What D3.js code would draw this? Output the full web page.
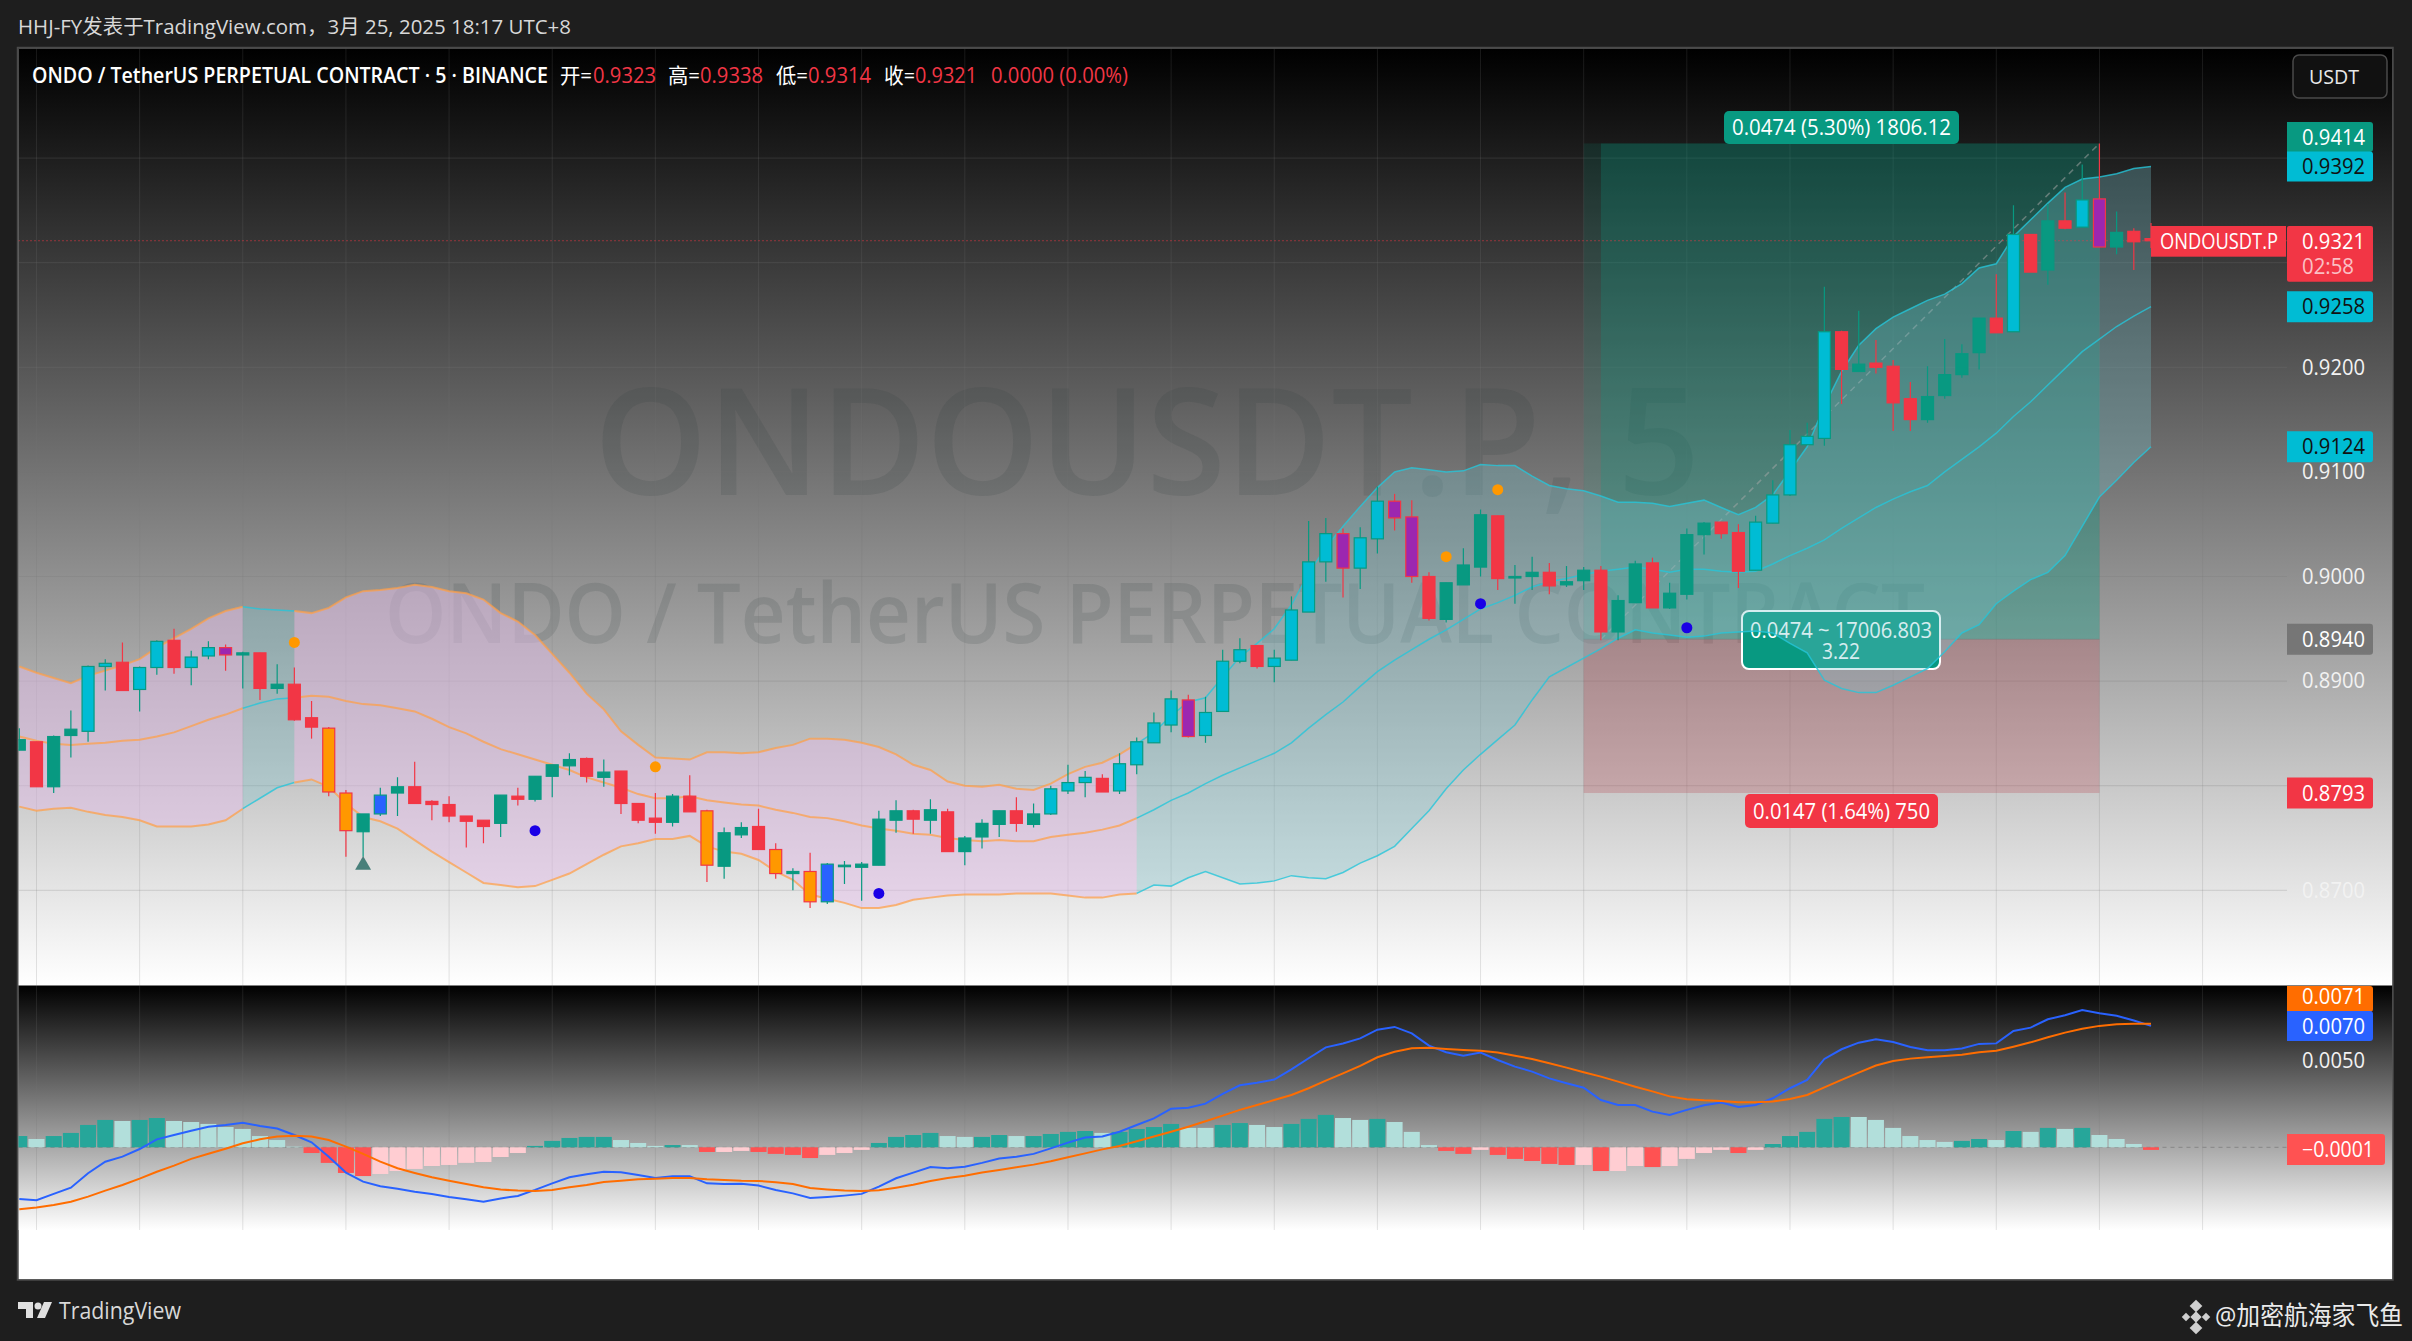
<!DOCTYPE html>
<html>
<head>
<meta charset="utf-8">
<style>
body { margin: 0; background: #1e1e1e; }
svg { display: block; }
text { font-family: "Open Sans", "Noto Sans CJK SC", sans-serif; }
</style>
</head>
<body>
<svg id="chart" width="2412" height="1341"></svg>
<script src="https://cdnjs.cloudflare.com/ajax/libs/d3/7.8.5/d3.min.js"></script>
<script>
// candles, one per 5 minute bar
var openPrice = [.8834,.8842,.8799,.8848,.8852,.8914,.8918,.8892,.8913,.8939,
.8913,.8924,.8932,.8925,.8927,.8893,.8897,.8865,.8855,.8793,
.8756,.8773,.8793,.8799,.8785,.8782,.8771,.8767,.8764,.8790,
.8787,.8809,.8819,.8826,.8808,.8814,.8783,.8769,.8765,.8790,
.8776,.8723,.8753,.8761,.8739,.8716,.8718,.8689,.8723,.8722,
.8724,.8767,.8776,.8767,.8775,.8737,.8751,.8763,.8776,.8763,
.8773,.8795,.8803,.8807,.8795,.8820,.8841,.8858,.8882,.8848,
.8871,.8919,.8934,.8914,.8920,.8966,.9014,.9041,.9008,.9036,
.9072,.9057,.9000,.8959,.8992,.9009,.9058,.8999,.9000,.9004,
.8992,.8996,.9006,.8947,.8975,.9013,.8970,.8983,.9040,.9052,
.9042,.9006,.9051,.9078,.9126,.9132,.9234,.9196,.9204,.9201,
.9170,.9150,.9173,.9193,.9214,.9247,.9234,.9327,.9293,.9340,
.9334,.9361,.9315,.9330,.9323];
var closePrice = [.8844,.8799,.8847,.8854,.8914,.8917,.8891,.8913,.8938,.8913,
.8923,.8932,.8925,.8927,.8893,.8897,.8863,.8856,.8794,.8757,
.8773,.8791,.8799,.8783,.8782,.8771,.8766,.8761,.8791,.8787,
.8809,.8820,.8825,.8809,.8813,.8783,.8767,.8765,.8790,.8775,
.8724,.8755,.8760,.8739,.8716,.8718,.8689,.8725,.8724,.8725,
.8768,.8776,.8768,.8777,.8737,.8750,.8764,.8776,.8764,.8773,
.8797,.8803,.8808,.8794,.8821,.8842,.8860,.8883,.8847,.8870,
.8919,.8930,.8914,.8922,.8968,.9014,.9041,.9008,.9037,.9072,
.9056,.9000,.8960,.8994,.9011,.9059,.8998,.9000,.9004,.8991,
.8995,.9006,.8947,.8977,.9012,.8970,.8984,.9040,.9051,.9041,
.9005,.9052,.9078,.9126,.9134,.9234,.9198,.9203,.9200,.9166,
.9150,.9172,.9193,.9213,.9247,.9233,.9327,.9291,.9340,.9333,
.9360,.9315,.9329,.9320,.9321];
var highPrice = [.8855,.8842,.8848,.8872,.8915,.8921,.8937,.8914,.8939,.8950,
.8929,.8938,.8935,.8928,.8927,.8916,.8913,.8881,.8856,.8796,
.8773,.8798,.8808,.8823,.8786,.8790,.8771,.8767,.8791,.8798,
.8809,.8820,.8831,.8827,.8825,.8814,.8783,.8793,.8792,.8810,
.8777,.8760,.8765,.8778,.8745,.8721,.8736,.8726,.8728,.8727,
.8776,.8786,.8777,.8787,.8778,.8752,.8768,.8776,.8789,.8783,
.8800,.8820,.8814,.8811,.8831,.8846,.8870,.8891,.8887,.8885,
.8930,.8941,.8934,.8930,.8981,.9053,.9056,.9046,.9047,.9086,
.9079,.9073,.9004,.8994,.9027,.9064,.9058,.9011,.9019,.9013,
.9010,.9009,.9010,.8982,.9015,.9018,.8994,.9046,.9052,.9052,
.9050,.9058,.9092,.9140,.9147,.9277,.9235,.9254,.9226,.9207,
.9186,.9201,.9227,.9222,.9247,.9289,.9355,.9327,.9356,.9367,
.9394,.9414,.9349,.9333,.9338];
var lowPrice = [.8834,.8799,.8793,.8827,.8842,.8891,.8891,.8871,.8906,.8907,
.8896,.8921,.8910,.8893,.8882,.8888,.8862,.8845,.8790,.8732,
.8732,.8771,.8771,.8783,.8767,.8765,.8741,.8745,.8751,.8781,
.8785,.8789,.8810,.8803,.8799,.8773,.8764,.8754,.8761,.8775,
.8708,.8711,.8750,.8739,.8711,.8700,.8683,.8687,.8706,.8690,
.8724,.8755,.8754,.8754,.8737,.8724,.8740,.8751,.8756,.8760,
.8772,.8792,.8789,.8794,.8792,.8811,.8841,.8851,.8846,.8841,
.8871,.8917,.8912,.8899,.8920,.8966,.8995,.8980,.8988,.9022,
.9044,.8994,.8958,.8956,.8992,.9000,.8987,.8974,.8987,.8983,
.8990,.8987,.8939,.8939,.8975,.8970,.8969,.8978,.9021,.9036,
.8989,.9006,.9051,.9077,.9126,.9125,.9165,.9196,.9194,.9139,
.9139,.9147,.9170,.9190,.9198,.9233,.9234,.9291,.9279,.9332,
.9334,.9315,.9308,.9293,.9314];
// g green, r red, c cyan, p purple, o orange, b blue
var candleKind = "grggccrccr" + "ccpgrgrroo" + "gbgrrrrrgr" + "gggrgrrrgr" + "oggrogobgg" +
"ggrgrgggrg" + "cccrccccpc" + "ccrccccpcc" + "pprgggrggr" + "ggrggrgggr" +
"rcccccrgrr" + "rggggrcrgr" + "cpgrr";

// Bollinger bands
var bbUpper = [.8914,.8908,.8903,.8898,.8905,.8910,.8915,.8921,.8932,.8941,
.8950,.8960,.8967,.8971,.8969,.8968,.8967,.8965,.8970,.8980,
.8986,.8987,.8989,.8992,.8990,.8986,.8984,.8978,.8965,.8957,
.8944,.8926,.8908,.8888,.8873,.8852,.8839,.8827,.8826,.8825,
.8832,.8832,.8831,.8832,.8836,.8839,.8845,.8845,.8844,.8841,
.8837,.8830,.8820,.8815,.8804,.8800,.8799,.8801,.8797,.8796,
.8802,.8811,.8818,.8822,.8830,.8840,.8851,.8867,.8880,.8884,
.8904,.8923,.8936,.8950,.8973,.9003,.9028,.9048,.9067,.9085,
.9100,.9104,.9102,.9100,.9101,.9107,.9106,.9106,.9096,.9087,
.9084,.9082,.9077,.9071,.9071,.9070,.9067,.9070,.9073,.9066,
.9059,.9066,.9078,.9101,.9124,.9163,.9196,.9221,.9237,.9248,
.9256,.9264,.9270,.9280,.9295,.9299,.9325,.9341,.9357,.9372,
.9380,.9382,.9385,.9390,.9392];
var bbMiddle = [.8847,.8843,.8840,.8839,.8840,.8841,.8843,.8844,.8847,.8851,
.8857,.8863,.8868,.8874,.8879,.8883,.8884,.8886,.8885,.8881,
.8878,.8877,.8874,.8871,.8864,.8856,.8850,.8842,.8835,.8830,
.8825,.8820,.8815,.8808,.8803,.8798,.8792,.8788,.8788,.8790,
.8786,.8784,.8782,.8781,.8777,.8774,.8770,.8769,.8766,.8762,
.8759,.8757,.8754,.8753,.8750,.8748,.8747,.8748,.8747,.8747,
.8751,.8753,.8755,.8758,.8762,.8769,.8777,.8786,.8793,.8802,
.8810,.8817,.8824,.8831,.8841,.8855,.8868,.8880,.8895,.8909,
.8920,.8930,.8940,.8949,.8959,.8969,.8975,.8982,.8990,.8995,
.8998,.9002,.9005,.9007,.9009,.9007,.9004,.9007,.9007,.9005,
.9004,.9005,.9012,.9020,.9027,.9035,.9046,.9056,.9066,.9074,
.9081,.9087,.9100,.9112,.9124,.9137,.9153,.9167,.9183,.9199,
.9215,.9227,.9239,.9249,.9258];
var bbLower = [.8780,.8776,.8778,.8779,.8775,.8772,.8770,.8767,.8761,.8761,
.8761,.8763,.8767,.8778,.8788,.8798,.8803,.8806,.8799,.8783,
.8770,.8766,.8759,.8748,.8737,.8727,.8717,.8707,.8705,.8703,
.8704,.8710,.8716,.8725,.8734,.8742,.8745,.8749,.8749,.8752,
.8742,.8737,.8735,.8729,.8718,.8710,.8696,.8692,.8688,.8683,
.8683,.8686,.8691,.8693,.8695,.8696,.8696,.8696,.8697,.8697,
.8697,.8695,.8693,.8693,.8696,.8697,.8705,.8704,.8712,.8718,
.8712,.8706,.8707,.8709,.8714,.8712,.8711,.8717,.8726,.8733,
.8742,.8759,.8776,.8797,.8815,.8830,.8844,.8858,.8882,.8904,
.8913,.8922,.8931,.8941,.8949,.8946,.8944,.8942,.8943,.8946,
.8947,.8948,.8946,.8936,.8927,.8901,.8893,.8889,.8889,.8896,
.8904,.8912,.8928,.8946,.8954,.8974,.8986,.8997,.9004,.9020,
.9048,.9076,.9092,.9109,.9124];
// the band changes colour with the trend: [first bar, last bar, colour key]
var bandSegments = [[0, 13, "down"], [13, 16, "up"], [16, 65, "down"], [65, 124, "up"]];

// dots and the triangle over the candles: [bar, price]
var orangeDots = [[16, .8937], [37, .8818], [83, .9019], [86, .9083]];
var blueDots = [[30, .8757], [50, .8697], [85, .8974], [97, .8951]];
var triangleMarks = [[20, .8724]];

// long position tool
var positionBars = [91, 92, 121];
var targetPrice = .9414, entryPrice = .8940, stopPrice = .8793, lastPrice = .9321;

// MACD pane
var macdLine = [-.00298,-.00306,-.00269,-.00233,-.00150,-.00083,-.00054,-.00010,.00046,.00071,
.00096,.00119,.00129,.00142,.00123,.00108,.00071,.00029,-.00054,-.00146,
-.00198,-.00225,-.00239,-.00256,-.00269,-.00287,-.00300,-.00314,-.00295,-.00281,
-.00246,-.00208,-.00173,-.00156,-.00141,-.00144,-.00160,-.00177,-.00167,-.00167,
-.00208,-.00212,-.00210,-.00221,-.00246,-.00266,-.00293,-.00287,-.00279,-.00269,
-.00227,-.00179,-.00146,-.00114,-.00121,-.00112,-.00090,-.00065,-.00054,-.00038,
-.00006,.00027,.00056,.00062,.00090,.00129,.00167,.00223,.00229,.00252,
.00308,.00358,.00373,.00391,.00450,.00514,.00577,.00599,.00629,.00679,
.00695,.00658,.00587,.00549,.00529,.00547,.00504,.00466,.00437,.00398,
.00370,.00344,.00273,.00244,.00244,.00206,.00187,.00216,.00243,.00258,
.00233,.00244,.00283,.00341,.00389,.00510,.00566,.00604,.00624,.00608,
.00579,.00560,.00560,.00570,.00597,.00600,.00672,.00691,.00739,.00762,
.00793,.00774,.00760,.00732,.00701];
var signalLine = [-.00358,-.00348,-.00333,-.00314,-.00285,-.00250,-.00218,-.00181,-.00141,-.00106,
-.00067,-.00037,-.00008,.00023,.00046,.00062,.00067,.00062,.00042,.00004,
-.00038,-.00083,-.00121,-.00148,-.00173,-.00193,-.00212,-.00231,-.00244,-.00250,
-.00252,-.00246,-.00231,-.00218,-.00200,-.00193,-.00185,-.00181,-.00177,-.00177,
-.00185,-.00189,-.00193,-.00194,-.00202,-.00212,-.00235,-.00243,-.00250,-.00252,
-.00248,-.00233,-.00216,-.00194,-.00177,-.00164,-.00146,-.00131,-.00115,-.00100,
-.00081,-.00058,-.00035,-.00012,.00008,.00035,.00062,.00090,.00119,.00150,
.00183,.00216,.00244,.00273,.00302,.00341,.00385,.00427,.00470,.00520,
.00552,.00572,.00575,.00568,.00562,.00558,.00547,.00529,.00510,.00485,
.00460,.00433,.00408,.00379,.00350,.00323,.00294,.00277,.00271,.00268,
.00260,.00260,.00264,.00279,.00302,.00346,.00389,.00431,.00472,.00498,
.00512,.00520,.00527,.00535,.00549,.00558,.00581,.00606,.00635,.00662,
.00685,.00701,.00710,.00714,.00714];
var histValues = [.00065,.00048,.00065,.00083,.00129,.00158,.00152,.00158,.00169,.00152,
.00146,.00135,.00117,.00106,.00065,.00042,.00004,-.00033,-.00090,-.00148,
-.00166,-.00154,-.00137,-.00125,-.00108,-.00102,-.00090,-.00085,-.00056,-.00033,
.00008,.00037,.00054,.00060,.00060,.00042,.00025,.00008,.00013,.00013,
-.00027,-.00027,-.00021,-.00027,-.00038,-.00044,-.00062,-.00044,-.00033,-.00015,
.00025,.00060,.00071,.00083,.00065,.00060,.00060,.00071,.00065,.00065,
.00077,.00089,.00094,.00083,.00089,.00106,.00117,.00135,.00112,.00112,
.00129,.00140,.00129,.00117,.00135,.00164,.00187,.00169,.00158,.00164,
.00146,.00089,.00013,-.00021,-.00038,-.00015,-.00044,-.00067,-.00079,-.00096,
-.00102,-.00102,-.00137,-.00137,-.00108,-.00114,-.00108,-.00067,-.00033,-.00015,
-.00033,-.00015,.00019,.00065,.00089,.00164,.00175,.00175,.00158,.00112,
.00065,.00042,.00031,.00037,.00048,.00042,.00094,.00089,.00112,.00106,
.00112,.00071,.00048,.00019,-.00015];
// d strong shade, l pale shade
var histShade = "dlddddlddl" + "lllllllddd" + "dlllllllll" + "dddddllldl" + "dllddddlll" +
"ddddllddld" + "dddlddddll" + "ddlldddlld" + "lllddldddd" + "dldlldllll" +
"dldddddlll" + "lllddldldl" + "dllld";

var priceTicks = [.87, .89, .90, .91, .92];
var priceGrid = [.87, .88, .89, .90, .91, .92, .93, .94];
var macdTicks = [.005];

var kindFill = { g: "#089981", r: "#f23645", c: "#00bcd4", p: "#9c27b0", o: "#ff9800", b: "#2962ff" };
var bandFill = { down: "rgba(225,190,231,0.5)", up: "rgba(120,195,205,0.3)" };
var bandStroke = { down: "rgba(255,160,70,0.72)", up: "rgba(38,198,218,0.8)" };
var shadeFill = { pd: "#26a69a", pl: "#b2dfdb", nd: "#ff5252", nl: "#ffcdd2" };

var paneLeft = 18.5, paneRight = 2392.5, axisLeft = 2287;
var mainTop = 48.5, mainBottom = 985.5, macdBottom = 1230, frameBottom = 1279.5;

var x = d3.scaleLinear().domain([0, 124]).range([19.3, 2151]);
var y = d3.scaleLinear().domain([.87, .92]).range([890.3, 367.3]);
var yMacd = d3.scaleLinear().domain([0, .005]).range([1147.3, 1060.7]);

var svg = d3.select("#chart");
var defs = svg.append("defs");

function addGradient(id, y1, y2) {
    var g = defs.append("linearGradient").attr("id", id)
        .attr("gradientUnits", "userSpaceOnUse")
        .attr("x1", 0).attr("x2", 0).attr("y1", y1).attr("y2", y2);
    g.append("stop").attr("offset", 0).attr("stop-color", "#000");
    g.append("stop").attr("offset", 1).attr("stop-color", "#fff");
}
addGradient("mainBg", mainTop, mainBottom);
addGradient("macdBg", mainBottom, macdBottom);

defs.append("clipPath").attr("id", "mainClip").append("rect")
    .attr("x", paneLeft).attr("y", mainTop).attr("width", axisLeft - paneLeft).attr("height", mainBottom - mainTop);
defs.append("clipPath").attr("id", "macdClip").append("rect")
    .attr("x", paneLeft).attr("y", mainBottom).attr("width", axisLeft - paneLeft).attr("height", frameBottom - mainBottom);

// backgrounds
svg.append("rect").attr("x", paneLeft).attr("y", mainTop).attr("width", paneRight - paneLeft).attr("height", frameBottom - mainTop).attr("fill", "#fff");
svg.append("rect").attr("x", paneLeft).attr("y", mainTop).attr("width", paneRight - paneLeft).attr("height", mainBottom - mainTop).attr("fill", "url(#mainBg)");
svg.append("rect").attr("x", paneLeft).attr("y", mainBottom).attr("width", paneRight - paneLeft).attr("height", macdBottom - mainBottom).attr("fill", "url(#macdBg)");
svg.append("rect").attr("x", 17.5).attr("y", 47.5).attr("width", paneRight - 17).attr("height", frameBottom - 47)
    .attr("fill", "none").attr("stroke", "#4a4a4a").attr("stroke-width", 1.5);

var main = svg.append("g").attr("clip-path", "url(#mainClip)");
var macd = svg.append("g").attr("clip-path", "url(#macdClip)");

// watermarks
main.append("text").attr("x", 594).attr("y", 495).attr("font-size", 148).attr("font-weight", 600)
    .attr("textLength", 1106).attr("lengthAdjust", "spacingAndGlyphs")
    .attr("fill", "rgba(50,60,60,0.15)").text("ONDOUSDT.P, 5");
main.append("text").attr("x", 385).attr("y", 643).attr("font-size", 84).attr("font-weight", 600)
    .attr("textLength", 1540).attr("lengthAdjust", "spacingAndGlyphs")
    .attr("fill", "rgba(50,60,60,0.15)").text("ONDO / TetherUS PERPETUAL CONTRACT");

// grid
var gridBars = d3.range(1, 128, 6);
main.selectAll(".vgrid").data(gridBars).enter().append("line")
    .attr("x1", d => x(d)).attr("x2", d => x(d)).attr("y1", mainTop).attr("y2", mainBottom)
    .attr("stroke", "rgba(120,120,120,0.2)");
main.selectAll(".hgrid").data(priceGrid).enter().append("line")
    .attr("x1", paneLeft).attr("x2", axisLeft).attr("y1", d => y(d)).attr("y2", d => y(d))
    .attr("stroke", "rgba(120,120,120,0.25)");
macd.selectAll(".vgrid").data(gridBars).enter().append("line")
    .attr("x1", d => x(d)).attr("x2", d => x(d)).attr("y1", mainBottom).attr("y2", macdBottom)
    .attr("stroke", "rgba(120,120,120,0.2)");

// position tool goes under the bands
var pos = main.append("g");
pos.append("rect").attr("x", x(positionBars[0])).attr("width", x(positionBars[2]) - x(positionBars[0]))
    .attr("y", y(targetPrice)).attr("height", y(entryPrice) - y(targetPrice)).attr("fill", "rgba(8,153,129,0.14)");
pos.append("rect").attr("x", x(positionBars[1])).attr("width", x(positionBars[2]) - x(positionBars[1]))
    .attr("y", y(targetPrice)).attr("height", y(entryPrice) - y(targetPrice)).attr("fill", "rgba(8,153,129,0.25)");
pos.append("rect").attr("x", x(positionBars[0])).attr("width", x(positionBars[2]) - x(positionBars[0]))
    .attr("y", y(entryPrice)).attr("height", y(stopPrice) - y(entryPrice)).attr("fill", "rgba(185,60,70,0.25)");
pos.append("line").attr("x1", x(positionBars[0])).attr("x2", x(positionBars[2]))
    .attr("y1", y(entryPrice)).attr("y2", y(entryPrice)).attr("stroke", "rgba(120,120,120,0.5)");
pos.append("line").attr("x1", x(positionBars[1])).attr("x2", x(positionBars[2]))
    .attr("y1", y(entryPrice)).attr("y2", y(targetPrice))
    .attr("stroke", "rgba(170,170,170,0.5)").attr("stroke-width", 1.5).attr("stroke-dasharray", "6,5");

// middle stats box, its fill is seen through the band
pos.append("rect").attr("x", 1742).attr("y", 611).attr("width", 198).attr("height", 58).attr("rx", 7)
    .attr("fill", "#089981").attr("stroke", "#fff").attr("stroke-width", 2);
pos.append("text").attr("x", 1841).attr("y", 638).attr("text-anchor", "middle").attr("font-size", 21)
    .attr("textLength", 182).attr("lengthAdjust", "spacingAndGlyphs").attr("fill", "#fff").text("0.0474 ~ 17006.803");
pos.append("text").attr("x", 1841).attr("y", 659).attr("text-anchor", "middle").attr("font-size", 21)
    .attr("textLength", 38).attr("lengthAdjust", "spacingAndGlyphs").attr("fill", "#fff").text("3.22");

// bands
var bandArea = d3.area().x(d => x(d)).y0(d => y(bbLower[d])).y1(d => y(bbUpper[d]));
function bandLine(values) { return d3.line().x(d => x(d)).y(d => y(values[d])); }
bandSegments.forEach(function(seg) {
    var bars = d3.range(seg[0], seg[1] + 1);
    main.append("path").attr("d", bandArea(bars)).attr("fill", bandFill[seg[2]]);
    [bbUpper, bbMiddle, bbLower].forEach(function(values) {
        main.append("path").attr("d", bandLine(values)(bars)).attr("fill", "none")
            .attr("stroke", bandStroke[seg[2]]).attr("stroke-width", seg[2] == "up" ? 1.5 : 2);
    });
});

// last price line
main.append("line").attr("x1", paneLeft).attr("x2", axisLeft).attr("y1", y(lastPrice)).attr("y2", y(lastPrice))
    .attr("stroke", "#f23645").attr("stroke-width", 1).attr("stroke-dasharray", "1,3");

// candles
var candle = main.selectAll(".candle").data(d3.range(openPrice.length)).enter().append("g");
function edge(i) { return closePrice[i] >= openPrice[i] ? "#089981" : "#f23645"; }
candle.append("line")
    .attr("x1", i => x(i)).attr("x2", i => x(i))
    .attr("y1", i => y(highPrice[i])).attr("y2", i => y(lowPrice[i]))
    .attr("stroke", edge).attr("stroke-width", 1.2);
candle.append("rect")
    .attr("x", i => x(i) - 6).attr("width", 12)
    .attr("y", i => y(Math.max(openPrice[i], closePrice[i])))
    .attr("height", i => Math.max(Math.abs(y(openPrice[i]) - y(closePrice[i])), 1.5))
    .attr("fill", i => kindFill[candleKind[i]])
    .attr("stroke", edge).attr("stroke-width", 1.2);

// markers
main.selectAll(".orange").data(orangeDots).enter().append("circle")
    .attr("cx", d => x(d[0])).attr("cy", d => y(d[1])).attr("r", 5.5).attr("fill", "#ff9800");
main.selectAll(".blue").data(blueDots).enter().append("circle")
    .attr("cx", d => x(d[0])).attr("cy", d => y(d[1])).attr("r", 5.5).attr("fill", "#1a00e6");
var triangle = d3.symbol().type(d3.symbolTriangle).size(110);
main.selectAll(".tri").data(triangleMarks).enter().append("path")
    .attr("d", triangle).attr("fill", "#487f7a")
    .attr("transform", d => "translate(" + x(d[0]) + "," + y(d[1]) + ")");

// MACD
macd.append("line").attr("x1", paneLeft).attr("x2", axisLeft).attr("y1", yMacd(0)).attr("y2", yMacd(0))
    .attr("stroke", "rgba(120,120,120,0.7)").attr("stroke-dasharray", "4,4");
macd.selectAll(".hist").data(d3.range(histValues.length)).enter().append("rect")
    .attr("x", i => x(i) - 8).attr("width", 16)
    .attr("y", i => Math.min(yMacd(histValues[i]), yMacd(0)))
    .attr("height", i => Math.abs(yMacd(histValues[i]) - yMacd(0)))
    .attr("fill", i => shadeFill[(histValues[i] >= 0 ? "p" : "n") + histShade[i]]);
function macdPath(values) { return d3.line().x((d, i) => x(i)).y(d => yMacd(d))(values); }
macd.append("path").attr("d", macdPath(macdLine)).attr("fill", "none").attr("stroke", "#2962ff").attr("stroke-width", 2);
macd.append("path").attr("d", macdPath(signalLine)).attr("fill", "none").attr("stroke", "#ff6d00").attr("stroke-width", 2);

// axes
var priceAxis = d3.axisRight(y).tickValues(priceTicks).tickSize(0).tickPadding(0).tickFormat(d3.format(".4f"));
var macdAxis = d3.axisRight(yMacd).tickValues(macdTicks).tickSize(0).tickPadding(0).tickFormat(d3.format(".4f"));
[[priceAxis, svg.append("g")], [macdAxis, svg.append("g")]].forEach(function(a) {
    a[1].attr("transform", "translate(2302,0)").call(a[0]);
    a[1].select(".domain").remove();
    a[1].selectAll("text").attr("font-size", 21).attr("font-family", '"Open Sans"')
        .attr("textLength", 63).attr("lengthAdjust", "spacingAndGlyphs").attr("fill", "#f2f2f2");
});

// tags on the price scale
function tag(yc, label, fill, color, left, width, height, textY) {
    var g = svg.append("g");
    g.append("path").attr("d", "M" + left + "," + (yc - height / 2) + "h" + (width - 3) + "q3,0 3,3v" + (height - 6) + "q0,3 -3,3h" + (3 - width) + "z").attr("fill", fill);
    g.append("text").attr("x", left + 15).attr("y", textY || yc + 7.5).attr("font-size", 21)
        .attr("textLength", label.length > 6 ? 72 : 63).attr("lengthAdjust", "spacingAndGlyphs").attr("fill", color).text(label);
    return g;
}
tag(137, "0.9414", "#089981", "#fff", axisLeft, 86, 30);
tag(y(.9392), "0.9392", "#00bcd4", "#111", axisLeft, 86, 30);
tag(y(.9258), "0.9258", "#00bcd4", "#111", axisLeft, 86, 31);
tag(y(.9124), "0.9124", "#00bcd4", "#111", axisLeft, 86, 31);
tag(y(entryPrice), "0.8940", "rgba(110,110,110,0.85)", "#fff", axisLeft, 86, 31);
tag(y(stopPrice), "0.8793", "#f23645", "#fff", axisLeft, 86, 31);
tag(999, "0.0071", "#ff6d00", "#fff", axisLeft, 86, 26, 1004);
tag(yMacd(.0070), "0.0070", "#2962ff", "#fff", axisLeft, 86, 30);
tag(1149.5, "\u22120.0001", "#ff5252", "#fff", axisLeft, 98, 31);

// current price tag with the bar countdown
svg.append("rect").attr("x", axisLeft).attr("y", 226).attr("width", 86).attr("height", 55.7).attr("rx", 2).attr("fill", "#f23645");
svg.append("text").attr("x", 2302).attr("y", 248.5).attr("font-size", 21).attr("textLength", 63)
    .attr("lengthAdjust", "spacingAndGlyphs").attr("fill", "#fff").text("0.9321");
svg.append("text").attr("x", 2302).attr("y", 274).attr("font-size", 21).attr("textLength", 52)
    .attr("lengthAdjust", "spacingAndGlyphs").attr("fill", "rgba(255,255,255,0.7)").text("02:58");
svg.append("rect").attr("x", 2151).attr("y", 226).attr("width", 135).attr("height", 30.7).attr("fill", "#f23645");
svg.append("text").attr("x", 2160).attr("y", 248.5).attr("font-size", 21).attr("textLength", 118)
    .attr("lengthAdjust", "spacingAndGlyphs").attr("fill", "#fff").text("ONDOUSDT.P");

// position tool labels
function pill(px, py, w, h, label, fill) {
    svg.append("rect").attr("x", px).attr("y", py).attr("width", w).attr("height", h).attr("rx", 5).attr("fill", fill);
    svg.append("text").attr("x", px + w / 2).attr("y", py + h / 2 + 7.5).attr("text-anchor", "middle")
        .attr("font-size", 21).attr("textLength", w - 16).attr("lengthAdjust", "spacingAndGlyphs").attr("fill", "#fff").text(label);
}
pill(1724, 111, 235, 33, "0.0474 (5.30%) 1806.12", "#089981");
pill(1745, 794, 193, 34, "0.0147 (1.64%) 750", "#f23645");

// USDT button
svg.append("rect").attr("x", 2293).attr("y", 55).attr("width", 94).attr("height", 43).attr("rx", 6)
    .attr("fill", "#111").attr("stroke", "#4a4a4a").attr("stroke-width", 1.5);
svg.append("text").attr("x", 2334).attr("y", 84).attr("text-anchor", "middle").attr("font-size", 20)
    .attr("textLength", 50).attr("lengthAdjust", "spacingAndGlyphs").attr("fill", "#e8e8e8").text("USDT");

// top lines
svg.append("text").attr("x", 18).attr("y", 34).attr("font-size", 20).attr("textLength", 553)
    .attr("lengthAdjust", "spacingAndGlyphs").attr("fill", "#d8d8d8").text("HHJ-FY发表于TradingView.com，3月 25, 2025 18:17 UTC+8");
var headerParts = [
    [32, 516, "ONDO / TetherUS PERPETUAL CONTRACT · 5 · BINANCE", "#fff", 600],
    [560, 32, "开=", "#fff", 400], [593, 63, "0.9323", "#f23645", 400],
    [668, 32, "高=", "#fff", 400], [700, 63, "0.9338", "#f23645", 400],
    [776, 32, "低=", "#fff", 400], [808, 63, "0.9314", "#f23645", 400],
    [884, 31, "收=", "#fff", 400], [915, 62, "0.9321", "#f23645", 400],
    [991, 137, "0.0000 (0.00%)", "#f23645", 400]
];
svg.selectAll(".hdr").data(headerParts).enter().append("text")
    .attr("x", d => d[0]).attr("y", 83).attr("font-size", 21).attr("font-weight", d => d[4])
    .attr("textLength", d => d[1]).attr("lengthAdjust", "spacingAndGlyphs")
    .attr("fill", d => d[3]).text(d => d[2]);

// footer: TradingView mark
var logo = svg.append("g").attr("fill", "#e0e0e0");
logo.append("path").attr("d", "M18,1302h15v16h-7v-9h-8z");
logo.append("circle").attr("cx", 38).attr("cy", 1306).attr("r", 3.5);
logo.append("path").attr("d", "M44,1302h8l-7,16h-8z");
svg.append("text").attr("x", 59).attr("y", 1319).attr("font-size", 24).attr("textLength", 122)
    .attr("lengthAdjust", "spacingAndGlyphs").attr("fill", "#d8d8d8").text("TradingView");

// footer: exchange mark and author
var diamond = svg.append("g").attr("fill", "#cfcfcf").attr("transform", "translate(2196,1317)");
[[0, -11, 4.5], [-10, 0, 3], [10, 0, 3], [0, 0, 4], [0, 11, 4.5]].forEach(function(d) {
    diamond.append("rect").attr("x", d[0] - d[2]).attr("y", d[1] - d[2]).attr("width", 2 * d[2]).attr("height", 2 * d[2])
        .attr("transform", "rotate(45," + d[0] + "," + d[1] + ")");
});
svg.append("text").attr("x", 2215).attr("y", 1325).attr("font-size", 26).attr("textLength", 188)
    .attr("lengthAdjust", "spacingAndGlyphs").attr("fill", "#eaeaea").text("@加密航海家飞鱼");
</script>
</body>
</html>
